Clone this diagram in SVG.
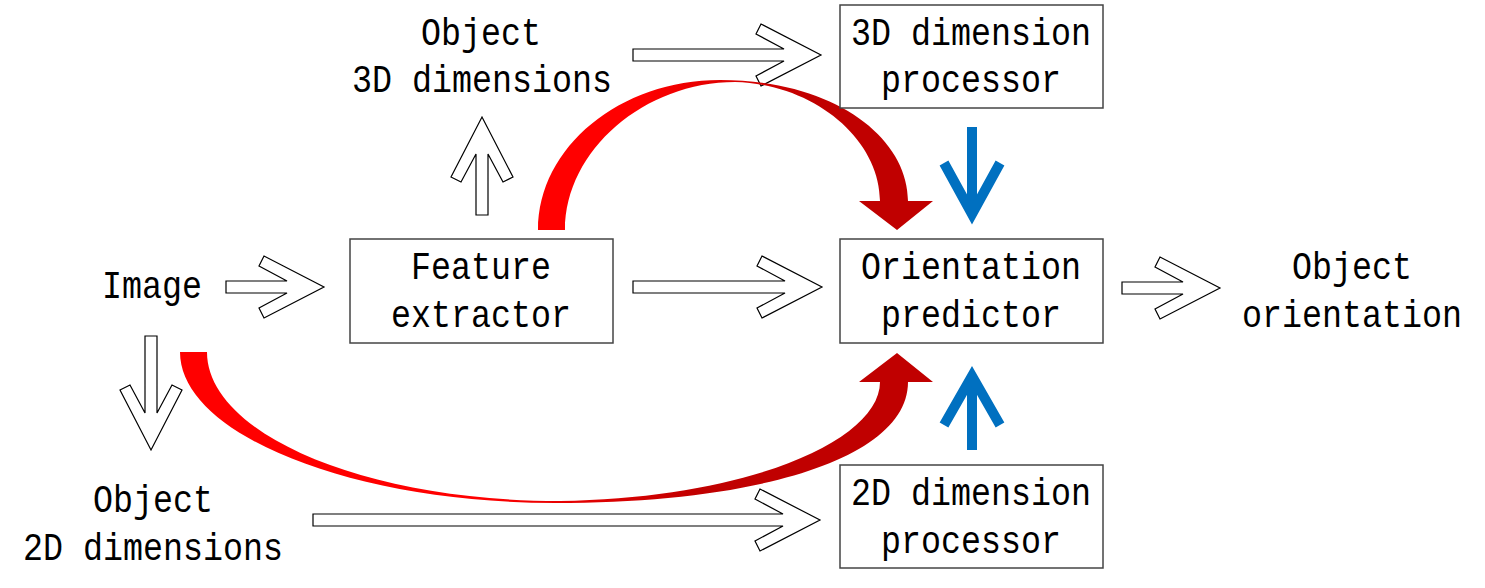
<svg xmlns="http://www.w3.org/2000/svg" width="1485" height="588" viewBox="0 0 1485 588">
<defs>
<style>
.box{fill:#fff;stroke:#444;stroke-width:1.5}
.t{font-family:"Liberation Mono","DejaVu Sans Mono",monospace;font-size:38px;fill:#000;text-anchor:middle}
.ha{fill:#fff;stroke:#000;stroke-width:1.2;stroke-linejoin:miter}
.blue{fill:none;stroke:#0070C0;stroke-width:10;stroke-linejoin:miter;stroke-miterlimit:10}
</style>
<linearGradient id="gTop" gradientUnits="userSpaceOnUse" x1="640" y1="0" x2="810" y2="0">
<stop offset="0" stop-color="#FF0000"/>
<stop offset="1" stop-color="#C00000"/>
</linearGradient>
<linearGradient id="gBot" gradientUnits="userSpaceOnUse" x1="480" y1="0" x2="700" y2="0">
<stop offset="0" stop-color="#FF0000"/>
<stop offset="1" stop-color="#C00000"/>
</linearGradient>
</defs>
<rect width="1485" height="588" fill="#fff"/>

<g id="connectors">
<polygon class="ha" points="226,281 287,281 259,266 264,256 324,287 264,318 259,308 287,293 226,293"/>
<polygon class="ha" points="633,281 785,281 757,266 762,256 822,287 762,318 757,308 785,293 633,293"/>
<polygon class="ha" points="1122,282 1183,282 1155,267 1160,257 1220,288 1160,319 1155,309 1183,294 1122,294"/>
<polygon class="ha" points="633,49 784,49 756,34 761,24 821,55 761,86 756,76 784,61 633,61"/>
<polygon class="ha" points="313,514 783,514 755,499 760,489 820,520 760,551 755,541 783,526 313,526"/>
<polygon class="ha" points="476,215 476,154 461,182 451,177 482,117 513,177 503,182 488,154 488,215"/>
<polygon class="ha" points="145,336 145,413 130,385 120,390 151,450 182,390 172,385 157,413 157,336"/>

<path fill="url(#gTop)" d="M538,230 C538,147 620,80 720,80 C835,80 908,138 908,201 L933,201 L897,230 L859,201 L880,201 C880,140 815,84 735,82 C645,82 565,150 565,230 Z"/>
<path fill="url(#gBot)" d="M180,352 L207,352 C207,434 365,501 560,501 C750,498 880,440 880,382 L859,382 L897,353 L933,382 L908,382 C908,458 760,503 555,503 C353,503 180,435 180,352 Z"/>

<path class="blue" d="M972,127 L972,212"/>
<path class="blue" d="M944,163 L972,214 L1000,163"/>
<path class="blue" d="M972,450 L972,378"/>
<path class="blue" d="M944,425 L972,376 L1000,425"/>
</g>

<g id="dims3d-label">
<text class="t" x="481" y="45" textLength="120" lengthAdjust="spacingAndGlyphs">Object</text>
<text class="t" x="482" y="92" textLength="260" lengthAdjust="spacingAndGlyphs">3D dimensions</text>
</g>
<g id="proc3d">
<rect class="box" x="840" y="5" width="263" height="103"/>
<text class="t" x="971" y="45" textLength="240" lengthAdjust="spacingAndGlyphs">3D dimension</text>
<text class="t" x="971" y="92" textLength="180" lengthAdjust="spacingAndGlyphs">processor</text>
</g>
<g id="image">
<text class="t" x="152" y="298" textLength="100" lengthAdjust="spacingAndGlyphs">Image</text>
</g>
<g id="feature">
<rect class="box" x="350" y="239" width="263" height="104"/>
<text class="t" x="481" y="279" textLength="140" lengthAdjust="spacingAndGlyphs">Feature</text>
<text class="t" x="481" y="327" textLength="180" lengthAdjust="spacingAndGlyphs">extractor</text>
</g>
<g id="orientation">
<rect class="box" x="840" y="239" width="263" height="104"/>
<text class="t" x="971" y="279" textLength="220" lengthAdjust="spacingAndGlyphs">Orientation</text>
<text class="t" x="971" y="327" textLength="180" lengthAdjust="spacingAndGlyphs">predictor</text>
</g>
<g id="output">
<text class="t" x="1352" y="279" textLength="120" lengthAdjust="spacingAndGlyphs">Object</text>
<text class="t" x="1352" y="327" textLength="220" lengthAdjust="spacingAndGlyphs">orientation</text>
</g>
<g id="dims2d-label">
<text class="t" x="153" y="512" textLength="120" lengthAdjust="spacingAndGlyphs">Object</text>
<text class="t" x="153" y="560" textLength="260" lengthAdjust="spacingAndGlyphs">2D dimensions</text>
</g>
<g id="proc2d">
<rect class="box" x="840" y="465" width="263" height="103"/>
<text class="t" x="971" y="505" textLength="240" lengthAdjust="spacingAndGlyphs">2D dimension</text>
<text class="t" x="971" y="553" textLength="180" lengthAdjust="spacingAndGlyphs">processor</text>
</g>
</svg>
